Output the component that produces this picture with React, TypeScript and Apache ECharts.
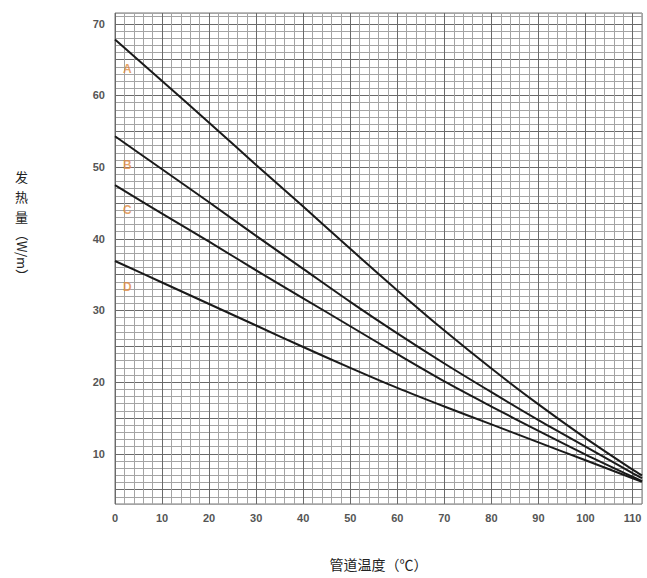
import React, { useEffect, useRef } from "react";
import * as echarts from "echarts";

const xValues = [0, 10, 20, 30, 40, 50, 60, 70, 80, 90, 100, 110, 112];
const seriesA = [67.8, 62.0, 56.2, 50.3, 44.5, 38.6, 32.8, 27.2, 21.9, 16.9, 12.2, 7.8, 7.0];
const seriesB = [54.3, 49.7, 45.1, 40.4, 35.8, 31.2, 26.8, 22.6, 18.6, 14.7, 11.0, 7.3, 6.6];
const seriesC = [47.5, 43.5, 39.6, 35.6, 31.7, 27.8, 23.9, 20.1, 16.6, 13.2, 9.9, 6.8, 6.2];
const seriesD = [36.9, 33.9, 30.9, 27.9, 24.9, 22.0, 19.2, 16.6, 14.1, 11.6, 9.1, 6.6, 6.1];
const curveNames = ["A", "B", "C", "D"];
const labelX = [2.6, 2.6, 2.6, 2.6];
const labelY = [63.7, 50.3, 44.0, 33.3];
const xTickLabels = [0, 10, 20, 30, 40, 50, 60, 70, 80, 90, 100, 110];
const yTickLabels = [10, 20, 30, 40, 50, 60, 70];

export default function App() {
  const ref = useRef<HTMLDivElement>(null);
  useEffect(() => {
    if (!ref.current) return;
    const chart = echarts.init(ref.current, undefined, { renderer: "svg" });
    const all = [seriesA, seriesB, seriesC, seriesD];
    const light = "#a4a4a4";
    const dark = "#6a6a6a";
    const font = "'Liberation Sans', Arial, sans-serif";
    chart.setOption({
      animation: false,
      backgroundColor: "#ffffff",
      grid: {
        left: 115,
        right: 5,
        top: 13,
        bottom: 74,
        show: true,
        borderColor: "#777",
        borderWidth: 1,
      },
      xAxis: {
        type: "value",
        min: 0,
        max: 112,
        interval: 2,
        name: "管道温度（℃）",
        nameLocation: "middle",
        nameGap: 53,
        nameTextStyle: { fontSize: 14, color: "#222", fontFamily: "'Noto Sans CJK SC', sans-serif" },
        axisLine: { show: false },
        axisTick: { show: false },
        axisLabel: {
          formatter: (v: number) => (xTickLabels.includes(v) ? String(v) : ""),
          color: "#555",
          fontSize: 11,
          fontWeight: "bold",
          fontFamily: font,
          margin: 8,
          showMaxLabel: false,
        },
        splitLine: {
          show: true,
          lineStyle: { color: [dark, light, light, light, light], width: 1 },
        },
      },
      yAxis: {
        type: "value",
        min: 3,
        max: 71.5,
        interval: 1,
        axisLine: { show: false },
        axisTick: { show: false },
        axisLabel: {
          formatter: (v: number) => (yTickLabels.includes(v) ? String(v) : ""),
          color: "#555",
          fontSize: 11,
          fontWeight: "bold",
          fontFamily: font,
          margin: 10,
        },
        splitLine: {
          show: true,
          lineStyle: { color: [light, light, dark, light, light], width: 1 },
        },
      },
      graphic: [
        {
          type: "text",
          left: 15,
          top: 166,
          style: {
            text: "发\n热\n量",
            font: "13px 'Noto Sans CJK SC', sans-serif",
            fill: "#222",
            lineHeight: 20,
          },
        },
        {
          type: "text",
          x: 29,
          y: 228,
          rotation: -Math.PI / 2,
          style: {
            text: "（W/m）",
            font: "13px 'Noto Sans CJK SC', sans-serif",
            fill: "#222",
          },
        },
      ],
      series: [
        ...all.map((s, i) => ({
          type: "line",
          name: curveNames[i],
          data: xValues.map((x, j) => [x, s[j]]),
          smooth: 0.3,
          symbol: "none",
          lineStyle: { color: "#1a1a1a", width: 2 },
          z: 5,
        })),
        {
          type: "scatter",
          symbolSize: 0,
          data: curveNames.map((n, i) => ({ name: n, value: [labelX[i], labelY[i]] })),
          label: {
            show: true,
            position: "inside",
            formatter: (p: any) => p.name,
            color: "#e08a40",
            fontSize: 12,
            fontWeight: "bold",
            fontFamily: font,
          },
          z: 6,
        },
      ],
    });
    return () => chart.dispose();
  }, []);
  return (
    <div
      ref={ref}
      style={{ position: "absolute", left: 0, top: 0, width: 647, height: 578 }}
    />
  );
}
